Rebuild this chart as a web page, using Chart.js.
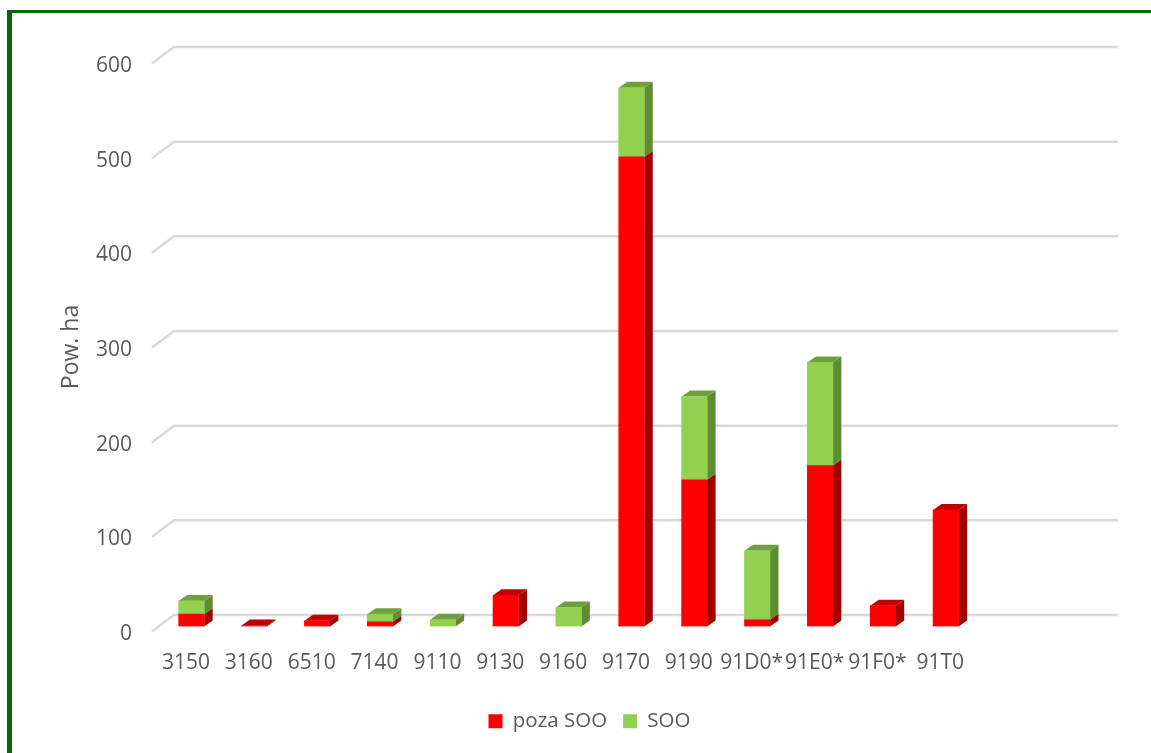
<!DOCTYPE html>
<html lang="pl">
<head>
<meta charset="utf-8">
<title>Pow. ha</title>
<script src="https://cdn.jsdelivr.net/npm/chart.js@4"></script>
<style>
  html, body { margin: 0; padding: 0; background: #fff; overflow: hidden; }
  #frame { position: absolute; left: 7px; top: 10px; right: 0; bottom: 0; border-left: 5px solid #056805; border-top: 3px solid #056805; }
  #chart { position: absolute; left: 0; top: 0; }
</style>
</head>
<body>
<div id="frame"></div>
<canvas id="chart" width="1151" height="753"></canvas>
<script>
const categories = ['3150', '3160', '6510', '7140', '9110', '9130', '9160', '9170', '9190', '91D0*', '91E0*', '91F0*', '91T0'];
const emptySlots = ['', ''];
const pozaSoo = [13, 1, 6, 5, null, 33, null, 496, 155, 7, 170, 22, 123];
const soo = [14, null, null, 8, 7, null, 20, 73, 88, 73, 109, null, null];
const yTicks = [0, 100, 200, 300, 400, 500, 600];

const textColor = '#595959';
const fontFamily = '"Open Sans", sans-serif';
const depthX = 8.5;
const depthY = 6;

// colours of the 3D faces: [side, top]
const faces = [['#A00000', '#C00000'], ['#5F8B35', '#6F9F3E']];

function poly(ctx, pts, color) {
    ctx.fillStyle = color;
    ctx.beginPath();
    pts.forEach((p, i) => i ? ctx.lineTo(p[0], p[1]) : ctx.moveTo(p[0], p[1]));
    ctx.closePath();
    ctx.fill();
}

// floor/wall grid lines, shifted back like the Excel 3D chart
const wallGrid = {
    id: 'wallGrid',
    beforeDatasetsDraw(chart) {
        const { ctx, scales: { y } } = chart;
        ctx.save();
        ctx.strokeStyle = '#D9D9D9';
        ctx.lineWidth = 2.5;
        y.ticks.forEach(t => {
            const py = y.getPixelForValue(t.value);
            ctx.beginPath();
            ctx.moveTo(152, py + 5);
            ctx.lineTo(174, py - 11.5);
            ctx.lineTo(1118, py - 11.5);
            ctx.stroke();
        });
        ctx.restore();
    }
};

// side and top faces of the bars, taken from the bar elements
const barDepth = {
    id: 'barDepth',
    beforeDatasetsDraw(chart) {
        const { ctx } = chart;
        const metas = chart.data.datasets.map((d, i) => chart.getDatasetMeta(i));
        ctx.save();
        categories.forEach((c, i) => {
            let topSeries = -1;
            metas.forEach((meta, s) => {
                if (chart.data.datasets[s].data[i] == null) return;
                topSeries = s;
                const bar = meta.data[i];
                const r = bar.x + bar.width / 2;
                poly(ctx, [[r, bar.y], [r + depthX, bar.y - depthY], [r + depthX, bar.base - depthY], [r, bar.base]], faces[s][0]);
            });
            if (topSeries < 0) return;
            const bar = metas[topSeries].data[i];
            const l = bar.x - bar.width / 2;
            const r = bar.x + bar.width / 2;
            poly(ctx, [[l, bar.y], [l + depthX, bar.y - depthY], [r + depthX, bar.y - depthY], [r, bar.y]], faces[topSeries][1]);
        });
        ctx.restore();
    }
};

const axisTitle = {
    id: 'axisTitle',
    afterDraw(chart) {
        const { ctx } = chart;
        ctx.save();
        ctx.translate(71, 347);
        ctx.rotate(-Math.PI / 2);
        ctx.font = '23px ' + fontFamily;
        ctx.fillStyle = textColor;
        ctx.textAlign = 'center';
        ctx.textBaseline = 'middle';
        ctx.fillText('Pow. ha', 0, 0);
        ctx.restore();
    }
};

new Chart(document.getElementById('chart'), {
    type: 'bar',
    data: {
        labels: categories.concat(emptySlots),
        datasets: [
            { label: 'poza SOO', data: pozaSoo, backgroundColor: '#FF0000', borderWidth: 0, barThickness: 25.5 },
            { label: 'SOO', data: soo, backgroundColor: '#92D050', borderWidth: 0, barThickness: 25.5 }
        ]
    },
    options: {
        responsive: false,
        animation: false,
        layout: { padding: { left: 76, right: 48, top: 58.5, bottom: 11.4 } },
        scales: {
            x: {
                stacked: true,
                grid: { display: false },
                border: { display: false },
                afterFit(scale) { scale.height = 68.6; },
                ticks: {
                    color: textColor,
                    font: { family: fontFamily, size: 21 },
                    padding: 16,
                    labelOffset: -5.5,
                    autoSkip: false,
                    maxRotation: 0
                }
            },
            y: {
                stacked: true,
                min: 0,
                max: 600,
                grid: { display: false },
                border: { display: false },
                afterFit(scale) { scale.width = 84; },
                afterBuildTicks(scale) { scale.ticks = yTicks.map(value => ({ value })); },
                ticks: {
                    color: textColor,
                    font: { family: fontFamily, size: 21 },
                    padding: 20,
                    labelOffset: 7.5
                }
            }
        },
        plugins: {
            tooltip: { enabled: false },
            legend: {
                position: 'bottom',
                labels: {
                    color: textColor,
                    font: { family: fontFamily, size: 20.5 },
                    boxWidth: 14,
                    boxHeight: 14,
                    padding: 16
                }
            }
        }
    },
    plugins: [wallGrid, barDepth, axisTitle]
});
</script>
</body>
</html>
